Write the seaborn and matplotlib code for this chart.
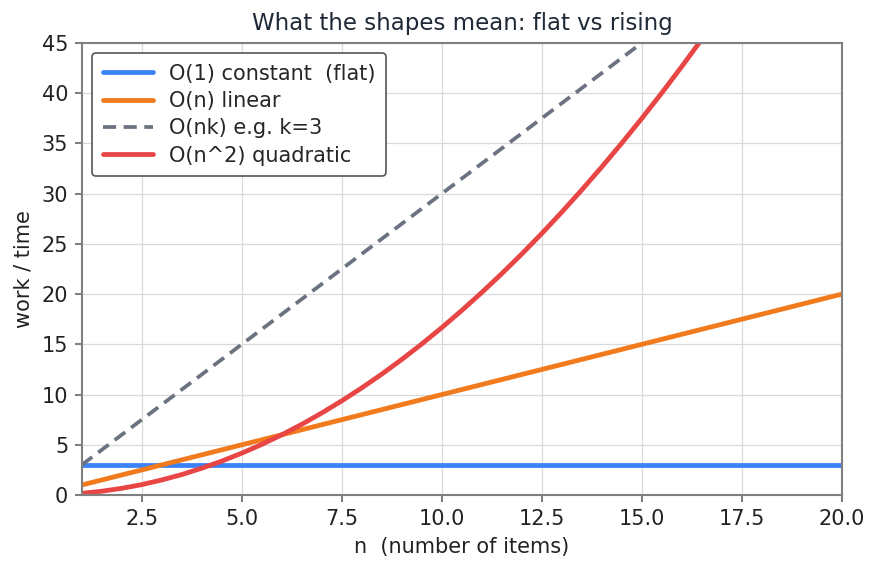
import matplotlib
matplotlib.use("Agg")
import matplotlib.pyplot as plt
import seaborn as sns

# n values and the work
n = [1, 2, 3, 4, 5, 6, 7, 8, 9, 10, 11, 12, 13, 14, 15, 16, 17, 18, 19, 20]
constant = [3] * 20
linear = [1, 2, 3, 4, 5, 6, 7, 8, 9, 10, 11, 12, 13, 14, 15, 16, 17, 18, 19, 20]
nk = [3, 6, 9, 12, 15, 18, 21, 24, 27, 30, 33, 36, 39, 42, 45, 48, 51, 54, 57, 60]

# the curve, read at half steps so it draws smooth
n_half = [1, 1.5, 2, 2.5, 3, 3.5, 4, 4.5, 5, 5.5, 6, 6.5, 7, 7.5, 8, 8.5, 9, 9.5,
          10, 10.5, 11, 11.5, 12, 12.5, 13, 13.5, 14, 14.5, 15, 15.5, 16, 16.5, 17]
quadratic = [0.17, 0.38, 0.67, 1.04, 1.5, 2.04, 2.67, 3.38, 4.17, 5.04, 6.0, 7.04,
             8.17, 9.38, 10.67, 12.04, 13.5, 15.04, 16.67, 18.38, 20.17, 22.04,
             24.0, 26.04, 28.17, 30.38, 32.67, 35.04, 37.5, 40.04, 42.67, 45.38, 48.17]

labels = ["O(1) constant  (flat)", "O(n) linear", "O(nk) e.g. k=3", "O(n^2) quadratic"]
colors = ["#3b82f6", "#f07a1c", "#6b7280", "#e84545"]

sns.set_theme(style="whitegrid")
plt.rcParams["font.family"] = ["DejaVu Sans"]
plt.rcParams.update({
    "axes.edgecolor": "#808080",
    "axes.linewidth": 1.0,
    "grid.color": "#d9d9d9",
    "grid.linewidth": 0.6,
    "xtick.bottom": True,
    "ytick.left": True,
    "xtick.color": "#808080",
    "ytick.color": "#808080",
    "xtick.labelcolor": "#222222",
    "ytick.labelcolor": "#222222",
    "xtick.major.size": 3.5,
    "ytick.major.size": 3.5,
    "xtick.major.width": 1.0,
    "ytick.major.width": 1.0,
})

fig, ax = plt.subplots(figsize=(5.86, 3.807), dpi=150)

sns.lineplot(x=n, y=constant, ax=ax, color=colors[0], lw=2.3, label=labels[0])
sns.lineplot(x=n, y=linear, ax=ax, color=colors[1], lw=2.3, label=labels[1])
sns.lineplot(x=n, y=nk, ax=ax, color=colors[2], lw=1.8, ls=(0, (3.5, 2)), label=labels[2])
sns.lineplot(x=n_half, y=quadratic, ax=ax, color=colors[3], lw=2.3, label=labels[3])

ax.set_xlim(1, 20)
ax.set_ylim(0, 45)
ax.set_xticks([2.5, 5.0, 7.5, 10.0, 12.5, 15.0, 17.5, 20.0])
ax.set_yticks([0, 5, 10, 15, 20, 25, 30, 35, 40, 45])
ax.tick_params(labelsize=10, pad=3)
ax.set_xlabel("n  (number of items)", fontsize=10, color="#222222")
ax.set_ylabel("work / time", fontsize=10, color="#222222")
ax.set_title("What the shapes mean: flat vs rising", fontsize=11, color="#1f2937")

leg = ax.legend(loc="upper left", fontsize=10, frameon=True, fancybox=True,
                handlelength=2.4, borderpad=0.5, labelspacing=0.35)
leg.get_frame().set_edgecolor("#555555")
leg.get_frame().set_linewidth(0.8)
leg.get_frame().set_alpha(1.0)

fig.subplots_adjust(left=0.093, right=0.958, top=0.925, bottom=0.133)
fig.savefig("out.png", dpi=150)
